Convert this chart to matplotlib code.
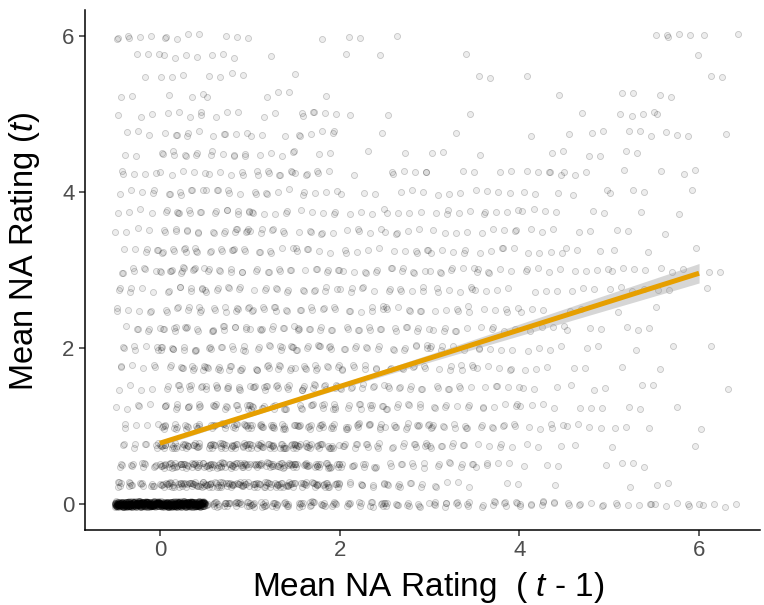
import numpy as np
import matplotlib
matplotlib.use("Agg")
import matplotlib.pyplot as plt

plt.rcParams['font.family'] = ['Liberation Sans', 'DejaVu Sans']
plt.rcParams['mathtext.fontset'] = 'custom'
plt.rcParams['mathtext.rm'] = 'Liberation Sans'
plt.rcParams['mathtext.it'] = 'Liberation Sans:italic'

# rating levels at time t (rows of the scatter)
y_levels = [0.0, 0.25, 0.5, 0.75, 1.0, 1.25, 1.5, 1.75, 2.0, 2.25, 2.5, 2.75,
            3.0, 3.25, 3.5, 3.75, 4.0, 4.25, 4.5, 4.75, 5.0, 5.25, 5.5, 5.75, 6.0]
# left edges of the 0.5 wide bins along rating at t - 1
x_bins = [-0.5, 0.0, 0.5, 1.0, 1.5, 2.0, 2.5, 3.0, 3.5, 4.0, 4.5, 5.0, 5.5, 6.0]
# estimated number of observations per (row, bin)
counts = [
    [380, 380, 32, 26, 22, 15, 13, 12, 10, 9, 7, 6, 6, 4],
    [18, 44, 42, 38, 30, 9, 9, 5, 2, 1, 0, 1, 2, 0],
    [13, 40, 40, 36, 28, 11, 8, 8, 5, 3, 1, 3, 0, 0],
    [9, 30, 32, 32, 26, 12, 10, 8, 5, 3, 1, 1, 1, 0],
    [5, 18, 20, 20, 17, 14, 12, 10, 8, 5, 4, 3, 0, 1],
    [5, 12, 13, 13, 13, 10, 8, 7, 6, 4, 3, 2, 1, 0],
    [4, 10, 12, 13, 13, 9, 8, 7, 5, 3, 3, 2, 0, 1],
    [6, 11, 11, 11, 11, 8, 8, 7, 5, 3, 2, 1, 1, 0],
    [7, 11, 10, 10, 10, 8, 8, 6, 5, 4, 2, 1, 1, 1],
    [6, 10, 10, 9, 9, 8, 7, 6, 5, 4, 3, 3, 0, 0],
    [6, 9, 9, 9, 8, 7, 7, 6, 5, 3, 2, 1, 1, 0],
    [6, 8, 8, 7, 7, 6, 7, 6, 4, 3, 3, 4, 2, 1],
    [7, 13, 8, 8, 7, 6, 7, 7, 6, 5, 4, 4, 3, 2],
    [6, 10, 9, 6, 6, 5, 6, 5, 5, 4, 3, 2, 1, 0],
    [4, 8, 10, 7, 6, 5, 5, 4, 5, 3, 2, 2, 1, 0],
    [4, 9, 8, 6, 5, 4, 4, 5, 5, 4, 2, 1, 1, 0],
    [5, 7, 6, 6, 5, 3, 3, 3, 4, 3, 2, 3, 1, 0],
    [5, 5, 5, 8, 6, 1, 6, 2, 2, 5, 3, 1, 3, 0],
    [2, 8, 7, 5, 2, 1, 1, 2, 1, 2, 2, 2, 0, 0],
    [3, 6, 5, 3, 6, 1, 0, 1, 0, 1, 3, 3, 3, 1],
    [3, 5, 3, 2, 6, 1, 1, 1, 0, 0, 1, 4, 1, 0],
    [2, 3, 1, 3, 1, 0, 0, 0, 0, 1, 0, 2, 2, 0],
    [1, 3, 4, 0, 1, 0, 0, 0, 2, 1, 0, 0, 0, 2],
    [3, 4, 3, 1, 0, 2, 0, 1, 0, 0, 0, 0, 1, 0],
    [6, 5, 3, 0, 1, 2, 1, 0, 0, 0, 0, 0, 5, 2],
]

# linear fit and its confidence band
fit_x = [0, 1, 2, 3, 4, 5, 6]
fit_y = [0.78, 1.143, 1.507, 1.87, 2.233, 2.597, 2.96]
ci_half = [0.035, 0.022, 0.03, 0.05, 0.075, 0.1, 0.125]

# spread the points inside each bin (deterministic jitter)
a1, a2 = 0.7548776662, 0.5698402910
xs, ys = [], []
for i, lev in enumerate(y_levels):
    for j, left in enumerate(x_bins):
        k = np.arange(counts[i][j]) + 11 * i + 17 * j
        xs.extend(left + 0.5 * ((k * a1) % 1))
        ys.extend(lev + 0.07 * (((k * k * a2) % 1) - 0.5))

fig = plt.figure(figsize=(7.64, 6.05), dpi=100)
ax = fig.add_axes([0.111, 0.124, 0.884, 0.859])

ax.scatter(xs, ys, s=19, facecolor=(0, 0, 0, 0.07), edgecolor=(0, 0, 0, 0.20),
           linewidth=0.6, zorder=2)

lo = np.array(fit_y) - np.array(ci_half)
hi = np.array(fit_y) + np.array(ci_half)
ax.fill_between(fit_x, lo, hi, color='#999999', alpha=0.4, lw=0, zorder=3)
ax.plot(fit_x, fit_y, color='#E69F00', lw=3.6, zorder=4, solid_capstyle='butt')

ax.set_xlim(-0.835, 6.68)
ax.set_ylim(-0.333, 6.333)
ax.set_xticks([0, 2, 4, 6])
ax.set_yticks([0, 2, 4, 6])

for s in ['top', 'right']:
    ax.spines[s].set_visible(False)
for s in ['left', 'bottom']:
    ax.spines[s].set_linewidth(1.1)
ax.tick_params(length=4, width=1.1, color='#333333', labelsize=16,
               labelcolor='#4D4D4D', pad=3.5)

ax.set_xlabel('Mean NA Rating  ( $\\mathit{t}$ - 1)', fontsize=24)
ax.set_ylabel('Mean NA Rating ($\\mathit{t}$)', fontsize=23.5)
ax.xaxis.set_label_coords(0.509, -0.077)
ax.yaxis.set_label_coords(-0.064, 0.537)

fig.savefig('out.png', dpi=100)
